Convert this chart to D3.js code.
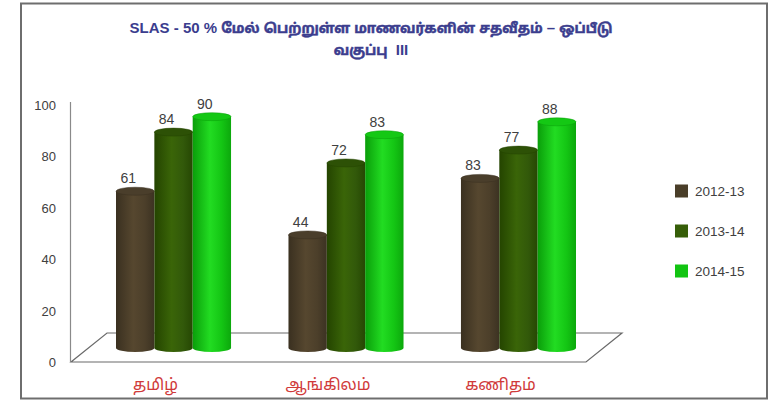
<!DOCTYPE html>
<html>
<head>
<meta charset="utf-8">
<script src="https://cdn.jsdelivr.net/npm/d3@7"></script>
<style>
  html, body { margin: 0; padding: 0; background: #ffffff; }
  svg { display: block; }
</style>
</head>
<body>
<svg id="chart" width="770" height="402"></svg>
<script>
// ---- data ----
const titleLines = ["SLAS - 50 % மேல் பெற்றுள்ள மாணவர்களின் சதவீதம் – ஒப்பீடு", "வகுப்பு  III"];
const categories = ["தமிழ்", "ஆங்கிலம்", "கணிதம்"];
const seriesNames = ["2012-13", "2013-14", "2014-15"];
const values2012 = [61, 44, 66];
const values2013 = [84, 72, 77];
const values2014 = [90, 83, 88];
// data labels as printed on the chart
const labels2012 = ["61", "44", "83"];
const labels2013 = ["84", "72", "77"];
const labels2014 = ["90", "83", "88"];
const yTicks = [0, 20, 40, 60, 80, 100];

const seriesValues = [values2012, values2013, values2014];
const seriesLabels = [labels2012, labels2013, labels2014];
const colors = ["#4a3e29", "#365e08", "#12c412"];
const grads = [
  ["#3a3020", "#56472f", "#4c3f2a", "#3c3222"],
  ["#244400", "#3a6508", "#32590a", "#264703"],
  ["#0a9e0a", "#22dc22", "#14c614", "#0ca80c"]
];
const topColors = ["#4a3e2b", "#2d5106", "#14c814"];

const svg = d3.select("#chart");
const defs = svg.append("defs");
grads.forEach((g, i) => {
  const lg = defs.append("linearGradient").attr("id", "g" + i)
    .attr("x1", "0%").attr("x2", "100%").attr("y1", "0%").attr("y2", "0%");
  [0, 0.45, 0.75, 1].forEach((o, k) => lg.append("stop").attr("offset", o).attr("stop-color", g[k]));
});

// frame
svg.append("rect").attr("x", 21).attr("y", 3.5).attr("width", 746).attr("height", 395)
  .attr("fill", "#ffffff").attr("stroke", "#6e6e6e").attr("stroke-width", 2);

// title: Latin runs in Liberation Sans, Tamil runs in Noto Sans Tamil
const tamilRe = /([\u0B80-\u0BFF]+)/;
titleLines.forEach((t, i) => {
  const tx = svg.append("text").attr("x", 371).attr("y", 33 + i * 22).attr("text-anchor", "middle")
    .attr("font-weight", "bold").attr("fill", "#3b3d8e").attr("xml:space", "preserve");
  t.split(tamilRe).filter(p => p.length).forEach(p => {
    const isTamil = tamilRe.test(p);
    tx.append("tspan")
      .attr("font-family", isTamil ? "'Noto Sans Tamil', sans-serif" : "'Liberation Sans', Arial, sans-serif")
      .attr("font-size", isTamil ? 13.5 : 15)
      .attr("stroke", isTamil ? "#3b3d8e" : "none")
      .attr("stroke-width", isTamil ? 0.5 : 0)
      .text(p);
  });
});

// scales
const y = d3.scaleLinear().domain([0, 100]).range([362, 105]);
const x0 = d3.scaleBand().domain(categories).range([116, 576]).paddingInner(0.333).paddingOuter(0);
const x1 = d3.scaleBand().domain(seriesNames).range([0, x0.bandwidth()]).padding(0);

// 3D depth offsets (bars sit mid-depth of the floor)
const depthX = 36, depthY = 29;
const barShiftY = 14, frontShiftX = 18;

// floor
const xFront0 = 71, xFront1 = 586;
const floorPts = [[xFront0, y(0)], [xFront1, y(0)], [xFront1 + depthX, y(0) - depthY], [xFront0 + depthX, y(0) - depthY]];
svg.append("path").attr("d", d3.line()(floorPts) + "Z")
  .attr("fill", "#ffffff").attr("stroke", "#6a6a6a").attr("stroke-width", 1.2);

// y axis
svg.append("line").attr("x1", 70.5).attr("x2", 70.5).attr("y1", y(100) - 3).attr("y2", y(0))
  .attr("stroke", "#8a8a8a").attr("stroke-width", 1.2);
svg.append("g").selectAll("text").data(yTicks).join("text")
  .attr("x", 56).attr("y", d => y(d) + 5).attr("text-anchor", "end")
  .attr("font-family", "'Liberation Sans', Arial, sans-serif").attr("font-size", 13)
  .attr("fill", "#404040").text(d => d);

// bars (cylinders)
const ry = 4;
const barsG = svg.append("g");
categories.forEach((c, ci) => {
  seriesNames.forEach((s, si) => {
    const v = seriesValues[si][ci];
    const bx = x0(c) + x1(s);
    const bw = x1.bandwidth();
    const cx = bx + bw / 2;
    const yb = y(0) - barShiftY;
    const yt = y(v) - barShiftY;
    const rx = bw / 2;
    const path = `M${bx},${yt} L${bx},${yb} A${rx},${ry} 0 0 0 ${bx + bw},${yb} L${bx + bw},${yt} Z`;
    barsG.append("path").attr("d", path).attr("fill", `url(#g${si})`);
    barsG.append("ellipse").attr("cx", cx).attr("cy", yt).attr("rx", rx).attr("ry", ry)
      .attr("fill", topColors[si]).attr("stroke", grads[si][0]).attr("stroke-width", 0.5);
    barsG.append("text").attr("x", cx - 7).attr("y", yt - 8).attr("text-anchor", "middle")
      .attr("font-family", "'Liberation Sans', Arial, sans-serif").attr("font-size", 14)
      .attr("fill", "#404040").text(seriesLabels[si][ci]);
  });
});

// category labels
svg.append("g").selectAll("text").data(categories).join("text")
  .attr("x", d => x0(d) + x0.bandwidth() / 2 - frontShiftX).attr("y", 390)
  .attr("text-anchor", "middle").attr("font-family", "'Noto Sans Tamil', 'Liberation Sans', Arial, sans-serif")
  .attr("font-size", 16).attr("fill", "#d03a3a").text(d => d);

// legend
const lg = svg.append("g");
seriesNames.forEach((s, i) => {
  const ly = 191 + i * 40;
  lg.append("rect").attr("x", 675).attr("y", ly - 6.5).attr("width", 13).attr("height", 13).attr("fill", colors[i]);
  lg.append("text").attr("x", 695).attr("y", ly + 5).attr("font-family", "'Liberation Sans', Arial, sans-serif")
    .attr("font-size", 13.5).attr("fill", "#404040").text(s);
});
</script>
</body>
</html>
